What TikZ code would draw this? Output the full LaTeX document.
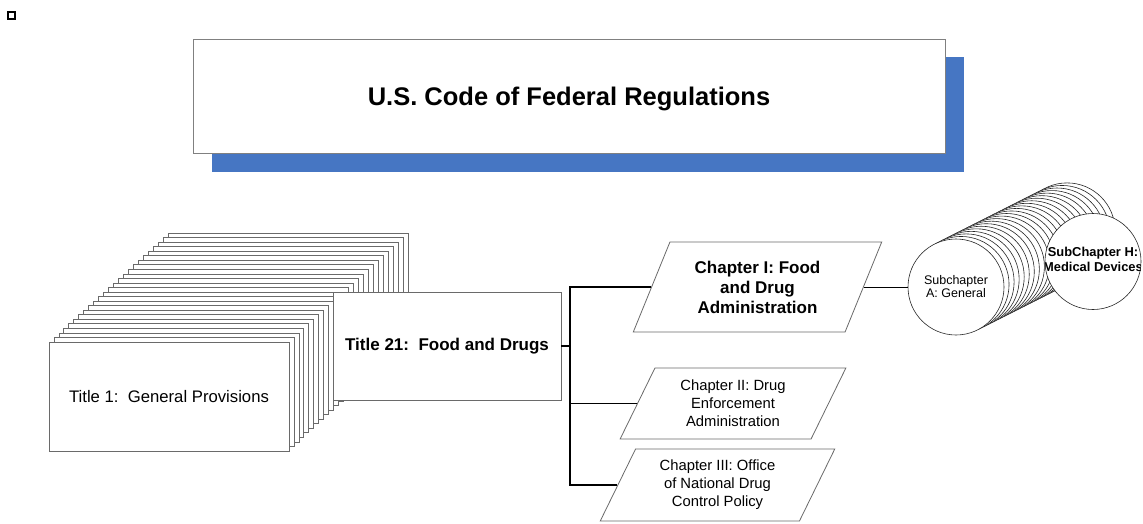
\documentclass[tikz,border=0pt]{standalone}
\usepackage{fontspec}
\setmainfont{Liberation Sans}
\usetikzlibrary{shapes.geometric}
\definecolor{shadowblue}{HTML}{4676C3}
\definecolor{edgegray}{HTML}{6A6A6A}
\begin{document}
\begin{tikzpicture}[x=1pt,y=-1pt,
  card/.style={draw=edgegray, fill=white, line width=0.8pt},
  cardnode/.style={card, rectangle, minimum width=240pt, minimum height=109pt, inner sep=0pt},
  para/.style={draw=edgegray, fill=white, trapezium, trapezium left angle=63.4, trapezium right angle=116.6, trapezium stretches=true, align=center, inner sep=0pt, line width=0.8pt},
  disc/.style={circle, draw=black!85, fill=white, minimum size=96pt, inner sep=0pt, line width=0.6pt, align=center},
  wire/.style={draw=black, line width=1.4pt},
  bigfont/.style={font=\fontsize{17}{20}\selectfont\bfseries},
  midfont/.style={font=\fontsize{14.8}{18}\selectfont},
  smallfont/.style={font=\fontsize{12.5}{13}\selectfont}]
\useasboundingbox (0,0) rectangle (1143,523);

% corner mark
\node[draw, line width=2.4pt, minimum size=6.6pt, inner sep=0pt] (corner) at (11.5,15.5) {};

% title with shadow
\node[fill=shadowblue, minimum width=752pt, minimum height=115pt, inner sep=0pt] (shadow) at (588,114.5) {};
\node[draw=gray, fill=white, minimum width=752pt, minimum height=114pt, inner sep=0pt, line width=0.8pt] (cfr) at (569,96) {\smash{\raisebox{-9pt}{\fontsize{25.5}{30}\selectfont\bfseries U.S. Code of Federal Regulations}}};

% stack of title cards
\foreach \k in {24,23,...,1} \draw[card] ({49+4.96*\k},{342-4.54*\k}) rectangle ++(240,109);
\node[cardnode, font=\fontsize{16.7}{20}\selectfont] (t1) at (169,396.5) {Title 1:\ \ General Provisions};

\node[card, minimum width=228pt, minimum height=108pt, inner sep=0pt, bigfont] (t21) at (447,346) {Title 21:\ \ Food and Drugs};

% chapters
\node[para, minimum width=249pt, minimum height=90pt, bigfont] (c1) at (757.5,287) {Chapter I: Food\\and Drug\\Administration};
\node[para, minimum width=226pt, minimum height=71pt, midfont] (c2) at (733,403.5) {Chapter II: Drug\\Enforcement\\Administration};
\node[para, minimum width=235pt, minimum height=72pt, midfont] (c3) at (717.5,485) {Chapter III: Office\\of National Drug\\Control Policy};

% connectors
\coordinate (jn) at (570,346);
\draw[wire] (t21.east) -- (jn);
\draw[wire] (c1.left side) -- (c1.left side -| jn) -- (c3.left side -| jn) -- (c3.left side);
\draw[wire] (c2.left side) -- (c2.left side -| jn);

% subchapter discs
\foreach \k in {22,21,...,1} \draw[draw=black!85, fill=white, line width=0.6pt] ({956+5.05*\k},{287-2.55*\k}) circle[radius=48pt];
\node[disc, smallfont] (sa) at (956,287) {Subchapter\\A: General};
\node[disc, path picture={\node[font=\fontsize{12.9}{15}\selectfont\bfseries, align=center] at ([yshift=2pt]path picture bounding box.center) {SubChapter H:\\Medical Devices};}] (sh) at (1093,261.5) {};

\draw[draw=black, line width=1pt] (c1.right side) -- (sa.west);
\end{tikzpicture}
\end{document}
